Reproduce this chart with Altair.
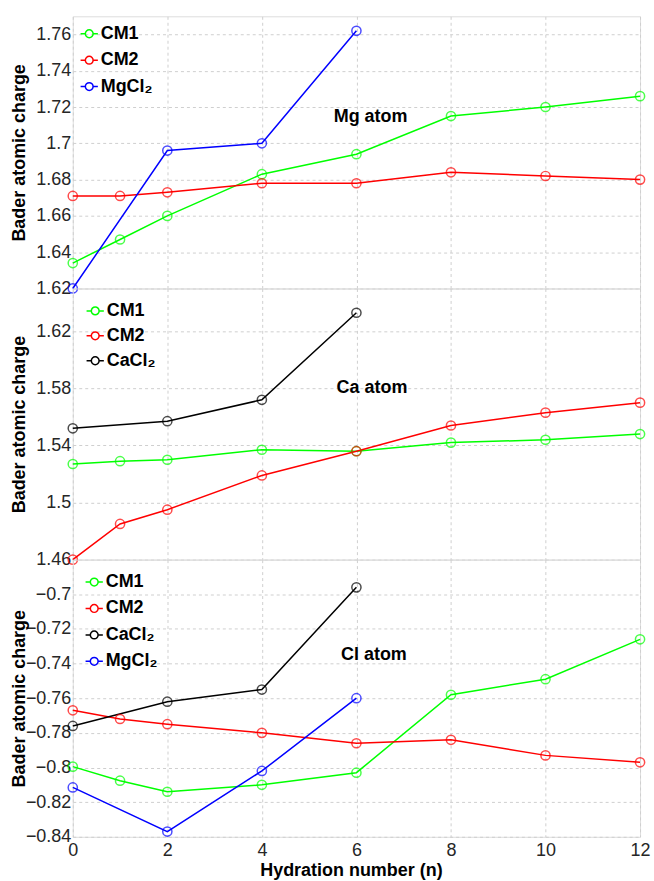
import altair as alt
import pandas as pd

# ---------------- data ----------------
hyd = [0, 1, 2, 4, 6, 8, 10, 12]
hyd_salt = [0, 2, 4, 6]

mg_cm1 = [1.634, 1.647, 1.660, 1.683, 1.694, 1.715, 1.720, 1.726]
mg_cm2 = [1.671, 1.671, 1.673, 1.678, 1.678, 1.684, 1.682, 1.680]
mg_mgcl2 = [1.620, 1.696, 1.700, 1.762]

ca_cm1 = [1.527, 1.529, 1.530, 1.537, 1.536, 1.542, 1.544, 1.548]
ca_cm2 = [1.460, 1.485, 1.495, 1.519, 1.536, 1.554, 1.563, 1.570]
ca_cacl2 = [1.552, 1.557, 1.572, 1.633]

cl_cm1 = [-0.7995, -0.8076, -0.814, -0.810, -0.803, -0.758, -0.749, -0.726]
cl_cm2 = [-0.767, -0.772, -0.775, -0.780, -0.786, -0.784, -0.793, -0.797]
cl_cacl2 = [-0.776, -0.762, -0.755, -0.696]
cl_mgcl2 = [-0.8115, -0.837, -0.802, -0.760]

series_names = ["CM1", "CM2", "CaCl₂", "MgCl₂"]
series_colors = ["#00ff00", "#ff0000", "#000000", "#0000ff"]

x_ticks = [0, 2, 4, 6, 8, 10, 12]
mg_ticks = [1.62, 1.64, 1.66, 1.68, 1.70, 1.72, 1.74, 1.76]
ca_ticks = [1.46, 1.50, 1.54, 1.58, 1.62]
cl_ticks = [-0.84, -0.82, -0.80, -0.78, -0.76, -0.74, -0.72, -0.70]

panel_labels = ["Mg atom", "Ca atom", "Cl atom"]
panel_label_x = [6.3, 6.33, 6.37]
panel_label_y = [1.7145, 1.580, -0.735]

FONT = "Liberation Sans"
W = 569
LEG_PATH = "M-1,0L-0.45,0M0.45,0L1,0M0.45,0A0.45,0.45,0,1,1,-0.45,0A0.45,0.45,0,1,1,0.45,0"


def frame(pairs):
    rows = []
    for name, xs, ys in pairs:
        for xv, yv in zip(xs, ys):
            rows.append({"n": xv, "charge": yv, "series": name})
    return pd.DataFrame(rows)


def panel(pairs, domain, ticks, h, idx, legend_x, legend_y, row_pad, bottom):
    df = frame(pairs)
    names = [p[0] for p in pairs]
    cols = [series_colors[series_names.index(nm)] for nm in names]
    if bottom:
        xaxis = alt.Axis(values=x_ticks, grid=True, ticks=False, domain=False,
                         labelOverlap=False, labelFlush=False,
                         labelFont=FONT, labelFontSize=18, labelColor="#262626",
                         labelPadding=5, title="Hydration number (n)",
                         titleFont=FONT, titleFontSize=18, titleFontWeight="bold",
                         titleColor="#000000", titlePadding=2, titleX=279,
                         gridColor="#cfcfcf", gridDash=[3, 3])
    else:
        xaxis = alt.Axis(values=x_ticks, grid=True, ticks=False, domain=False,
                         labels=False, title=None,
                         gridColor="#cfcfcf", gridDash=[3, 3])
    yaxis = alt.Axis(values=ticks, format=".3~r", grid=True, ticks=False, domain=False,
                     labelOverlap=False, labelFlush=False,
                     labelFont=FONT, labelFontSize=18, labelColor="#262626",
                     labelPadding=2, title="Bader atomic charge",
                     titleFont=FONT, titleFontSize=18, titleFontWeight="bold",
                     titleColor="#000000", titleX=-53, titleY=h / 2,
                     titleBaseline="middle",
                     gridColor="#cfcfcf", gridDash=[3, 3])
    x = alt.X("n:Q", scale=alt.Scale(domain=[0, 12], nice=False, zero=False), axis=xaxis)
    y = alt.Y("charge:Q", scale=alt.Scale(domain=domain, nice=False, zero=False), axis=yaxis)
    color = alt.Color("series:N",
                      scale=alt.Scale(domain=names, range=cols),
                      sort=names,
                      legend=alt.Legend(orient="none", legendX=legend_x, legendY=legend_y,
                                        title=None, symbolType=LEG_PATH, symbolSize=300,
                                        symbolStrokeWidth=1.5, symbolFillColor="transparent",
                                        labelFont=FONT, labelFontSize=18,
                                        labelFontWeight="bold", labelColor="#000000",
                                        labelOffset=2, rowPadding=row_pad, padding=0))
    base = alt.Chart(df)
    lines = base.mark_line(strokeWidth=1.5).encode(x=x, y=y, color=color, order="n:Q",
                                                  detail="series:N")
    pts = base.mark_point(shape="circle", filled=False, size=85, strokeWidth=1.5).encode(
        x=x, y=y, color=alt.Color("series:N", scale=alt.Scale(domain=names, range=cols), legend=None))
    lab = alt.Chart(pd.DataFrame({"n": [panel_label_x[idx]], "charge": [panel_label_y[idx]],
                                  "t": [panel_labels[idx]]})).mark_text(
        font=FONT, fontSize=18, fontWeight="bold", color="#000000").encode(
        x=x, y=y, text="t:N")
    return alt.layer(lines, pts, lab).properties(width=W, height=h)


p1 = panel([("CM1", hyd, mg_cm1), ("CM2", hyd, mg_cm2), ("MgCl₂", hyd_salt, mg_mgcl2)],
           [1.62, 1.77], mg_ticks, 273, 0, 7, 8, 7.5, False)
p2 = panel([("CM1", hyd, ca_cm1), ("CM2", hyd, ca_cm2), ("CaCl₂", hyd_salt, ca_cacl2)],
           [1.46, 1.65], ca_ticks, 272, 1, 13, 13, 6.0, False)
p3 = panel([("CM1", hyd, cl_cm1), ("CM2", hyd, cl_cm2), ("CaCl₂", hyd_salt, cl_cacl2),
            ("MgCl₂", hyd_salt, cl_mgcl2)],
           [-0.84, -0.68], cl_ticks, 278, 2, 12, 13, 7.5, True)

chart = alt.vconcat(p1, p2, p3, spacing=0, bounds="flush").resolve_scale(
    color="independent", y="independent"
).configure_view(stroke="#bdbdbd", strokeWidth=1).configure_axis(
    labelOverlap=False, labelFlush=False
).configure(
    padding={"left": 10, "top": 14, "right": 3, "bottom": 1},
    background="white",
)

chart.save("out.html", embed_options={"renderer": "svg", "actions": False})
